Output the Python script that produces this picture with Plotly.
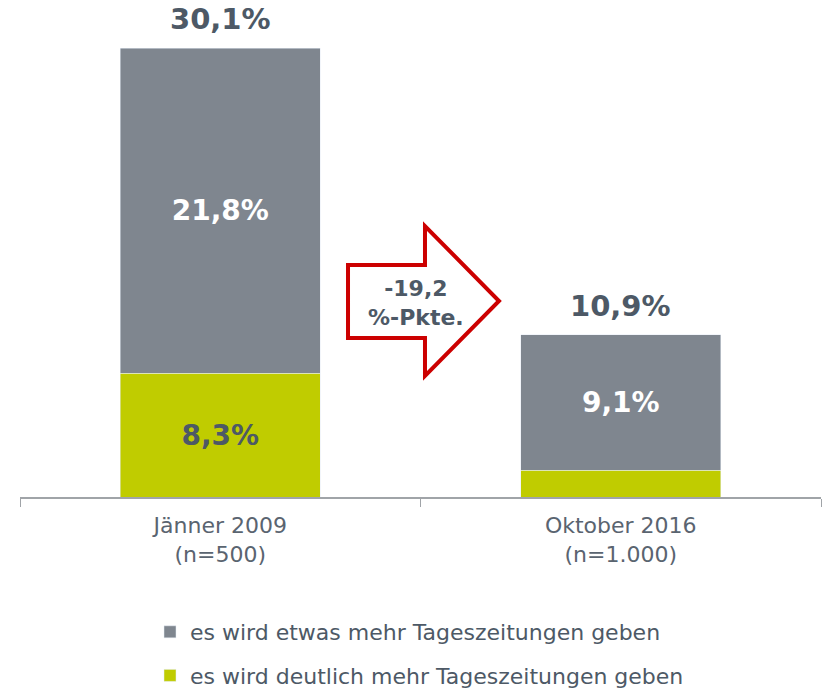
import plotly.graph_objects as go

categories = ["Jänner 2009<br>(n=500)", "Oktober 2016<br>(n=1.000)"]
deutlich = [8.3, 1.8]
etwas = [21.8, 9.1]
totals = [30.1, 10.9]
deutlich_labels = ["8,3%", ""]
etwas_labels = ["21,8%", "9,1%"]
total_labels = ["30,1%", "10,9%"]
change_label = "-19,2<br>%-Pkte."
series_names = ["es wird deutlich mehr Tageszeitungen geben", "es wird etwas mehr Tageszeitungen geben"]

GREY = "#7f868f"
GREEN = "#c0cc00"
DARK = "#4d5966"
FONT = "DejaVu Sans"

fig = go.Figure()
fig.add_trace(go.Bar(
    x=categories, y=deutlich, name=series_names[0], marker_color=GREEN,
    text=deutlich_labels, textposition="inside", insidetextanchor="middle",
    textfont=dict(size=28, color=DARK, family=FONT, weight="bold"),
    legendgroup="a", legendrank=2, cliponaxis=False,
))
fig.add_trace(go.Bar(
    x=categories, y=etwas, name=series_names[1], marker_color=GREY,
    text=etwas_labels, textposition="inside", insidetextanchor="middle",
    textfont=dict(size=28, color="white", family=FONT, weight="bold"),
    legendgroup="b", legendrank=1, cliponaxis=False,
))

for c, t, lab in zip(categories, totals, total_labels):
    fig.add_annotation(x=c, y=t, text=lab, showarrow=False, yanchor="bottom",
                       yshift=10, font=dict(size=29, color=DARK, family=FONT, weight="bold"))

# arrow shape (paper coords: plot area px x 20..821, y 20..497)
def px(xp):
    return (xp - 20) / 801
def py(yp):
    return (497 - yp) / 477
pts = [(348, 265), (425, 265), (425, 226), (499, 301), (425, 376), (425, 338), (348, 338)]
path = "M " + " L ".join(f"{px(a):.4f},{py(b):.4f}" for a, b in pts) + " Z"
fig.add_shape(type="path", path=path, xref="paper", yref="paper",
              line=dict(color="#cc0000", width=4), fillcolor="white", layer="above")
fig.add_annotation(x=px(416), y=py(303), xref="paper", yref="paper", text=change_label,
                   showarrow=False, font=dict(size=22, color=DARK, family=FONT, weight="bold"))

fig.update_layout(
    width=822, height=691,
    barmode="stack", bargap=0.5,
    plot_bgcolor="white", paper_bgcolor="white",
    margin=dict(l=20, r=1, t=20, b=194, autoexpand=False),
    font=dict(family=FONT, color=DARK),
    showlegend=True,
    legend=dict(orientation="v", traceorder="grouped", tracegroupgap=12,
                x=px(150), xanchor="left", y=py(611), yanchor="top",
                font=dict(size=22, color=DARK, family=FONT), itemwidth=30),
)
fig.update_xaxes(showline=True, linecolor="#a0a4a8", linewidth=1.5, ticks="outside",
                 tickson="boundaries", ticklen=8, tickcolor="#a0a4a8",
                 ticklabelstandoff=8,
                 tickfont=dict(size=22, color="#5a6470", family=FONT), showgrid=False)
fig.update_yaxes(range=[0, 32], visible=False, showgrid=False)

fig.write_html("out.html", config={"displayModeBar": False},
               post_script="document.body.style.margin='0';document.body.style.overflow='hidden';")
